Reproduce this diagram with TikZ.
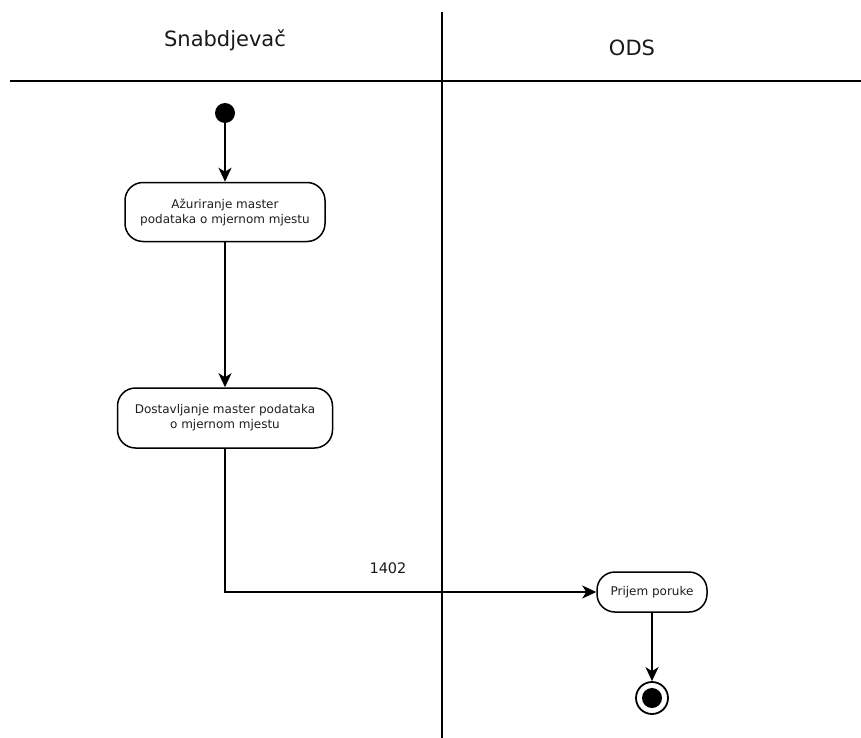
\documentclass[tikz,border=0pt]{standalone}
\usepackage{fontspec}
\setmainfont{DejaVu Sans}
\usetikzlibrary{arrows.meta}
\begin{document}
\begin{tikzpicture}[x=1pt,y=-1pt,
  lane/.style={line width=1.8pt,draw=black},
  actbox/.style={draw=black,line width=1.5pt,rounded corners=18pt,fill=white,
    align=center,font=\fontsize{12}{15}\selectfont,text=black!88,inner sep=2pt},
  arr/.style={line width=1.8pt,-{Stealth[length=14pt,width=13pt,inset=4pt]}},
  head/.style={font=\fontsize{21}{25}\selectfont,text=black!90}]
\path[use as bounding box,fill=white] (0,0) rectangle (861,738);
% swimlanes
\coordinate (hl) at (10,81);
\coordinate (hr) at (861,81);
\coordinate (vt) at (442,12);
\coordinate (vb) at (442,738);
\draw[lane] (hl) -- (hr);
\draw[lane] (vt) -- (vb);
\node[head] (h1) at (225,40) {Snabdjevač};
\node[head] (h2) at (632,48) {ODS};
% nodes
\node[circle,fill=black,minimum size=20pt,inner sep=0pt] (start) at (225,113) {};
\node[actbox,minimum width=200pt,minimum height=59pt] (b1) at (225,212) {Ažuriranje master\\podataka o mjernom mjestu};
\node[actbox,minimum width=215pt,minimum height=60pt] (b2) at (225,418) {Dostavljanje master podataka\\o mjernom mjestu};
\node[actbox,minimum width=110pt,minimum height=40pt] (b3) at (652,592) {Prijem poruke};
\node[circle,draw=black,line width=1.8pt,minimum size=32pt,inner sep=0pt,fill=white] (end) at (652,698) {};
\node[circle,fill=black,minimum size=20pt,inner sep=0pt] (endin) at (end) {};
% connectors
\draw[arr] (start) -- (b1);
\draw[arr] (b1) -- (b2);
\draw[arr] (b2.south) |- (b3.west);
\node[font=\fontsize{14.5}{16}\selectfont,text=black!90] (lbl) at (388,568) {1402};
\draw[arr] (b3) -- (end);
\end{tikzpicture}
\end{document}
